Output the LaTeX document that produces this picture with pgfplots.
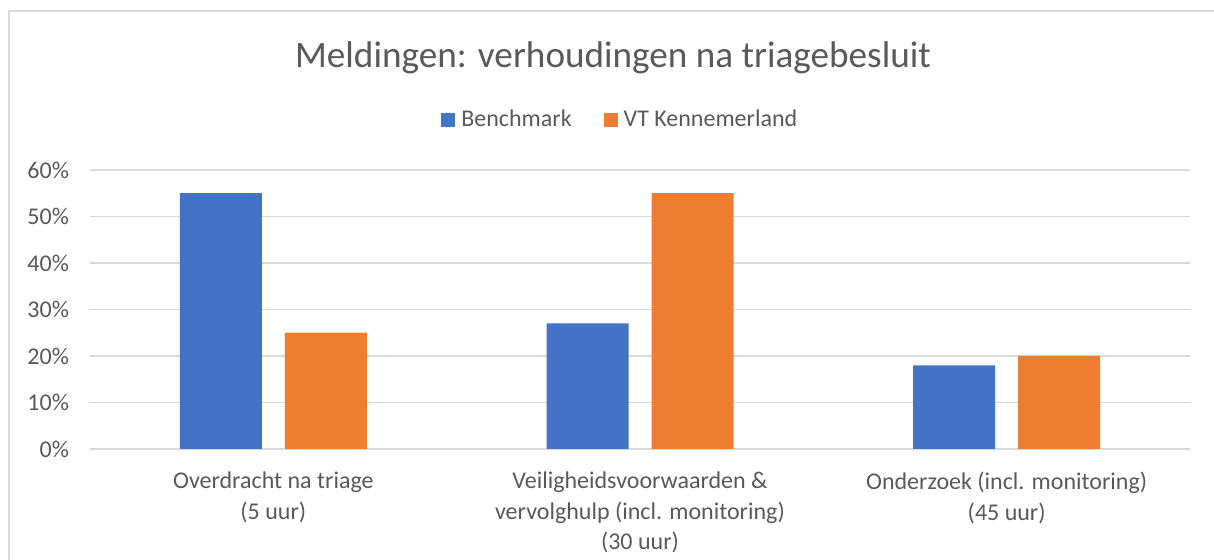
\documentclass[border=0pt]{standalone}
\usepackage{pgfplots}
\pgfplotsset{compat=1.18}
\usepackage{fontspec}
\setmainfont{Carlito}
\definecolor{cblue}{HTML}{4472C4}
\definecolor{corange}{HTML}{ED7D31}
\definecolor{cgrid}{HTML}{D9D9D9}
\definecolor{ctext}{HTML}{595959}
\begin{document}
\begin{tikzpicture}
\begin{axis}[
  scale only axis,
  width=550pt, height=139.5pt,
  at={(0,0)}, anchor=south west,
  xmin=-0.5, xmax=2.5,
  ymin=0, ymax=60,
  ytick={0,10,...,60},
  yticklabel={\pgfmathprintnumber{\tick}\%},
  /pgf/number format/assume math mode=true,
  xtick={0,1,2},
  xticklabels={{Overdracht na triage\\(5 uur)},{Veiligheidsvoorwaarden \&\\vervolghulp (incl. monitoring)\\(30 uur)},{Onderzoek (incl. monitoring)\\(45 uur)}},
  xticklabel style={align=center, font=\fontsize{12}{15.25}\selectfont, text=ctext, yshift=-8pt},
  yticklabel style={font=\fontsize{12}{14}\selectfont, text=ctext, xshift=-7pt},
  major tick length=0pt,
  ymajorgrids,
  grid style={cgrid, line width=0.75pt},
  axis line style={draw=none},
  ybar, bar width=41pt,
  legend columns=2,
  legend style={draw=none, fill=none, at={(0.483,1.179)}, anchor=center,
    font=\fontsize{12}{14}\selectfont, text=ctext,
    /tikz/every even column/.append style={column sep=14pt}},
  legend image code/.code={\fill[#1] (0pt,-3.5pt) rectangle (7pt,3.5pt); \path (8pt,0pt);},
]
\addplot[fill=cblue, draw=none, bar shift=-26.25pt] coordinates {(0,55) (1,27) (2,18)};
\addplot[fill=corange, draw=none, bar shift=26.25pt] coordinates {(0,25) (1,55) (2,20)};
\legend{Benchmark, VT Kennemerland}
\end{axis}
\useasboundingbox (-45pt,-55.5pt) rectangle (562pt,224.5pt);
\draw[cgrid, line width=0.75pt] (-40.5pt,-55.5pt) -- (-40.5pt,219pt) -- (562pt,219pt);
\node[text=ctext, font=\fontsize{18.6}{22}\selectfont] at (261.5pt,195.5pt) {Meldingen: verhoudingen na triagebesluit};
\end{tikzpicture}
\end{document}
